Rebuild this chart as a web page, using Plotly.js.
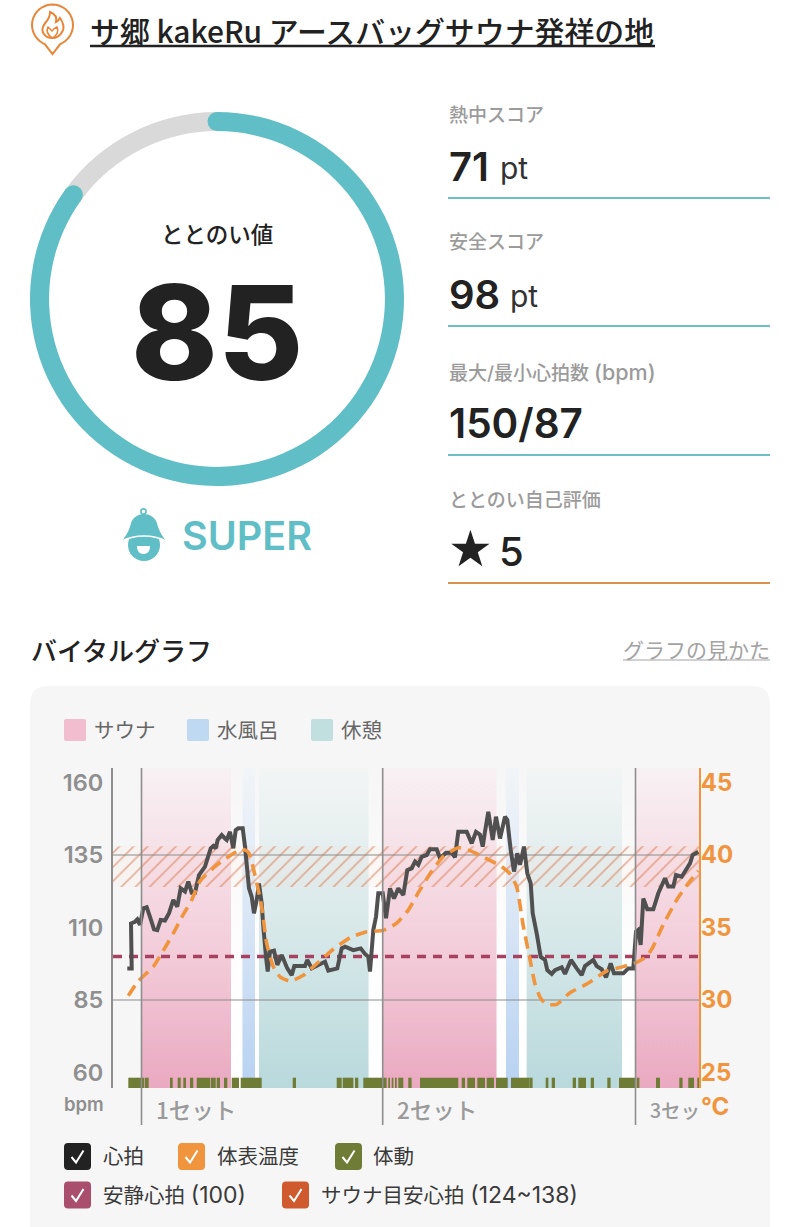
<!DOCTYPE html>
<html><head><meta charset="utf-8">
<script src="https://cdn.plot.ly/plotly-3.0.0.min.js"></script>
<style>html,body{margin:0;padding:0;background:#fff}#c{width:800px;height:1227px}</style>
</head><body><div id="c"></div>
<script>
// ---- data ----
const gaugeValues=[85,15];
const hrTime=[14.3,18.7,18,22,24.3,27,30.3,33.7,37,41,44.3,47.7,52,56,60.3,64.3,67.7,72,75.3,78.7,82,86,92,97.7,100.3,102.7,104.7,108.7,112,113.7,117,120.3,122.7,125.3,129.7,132,136,138.7,141,143.7,146,148.7,150.3,153,154.7,157,161,164.3,168.7,174.3,178.7,181.3,192,194.3,198.7,205.3,212,215.3,224.3,228.7,232,240.3,247.7,252,255.3,257,260.3,263,265.3,269.7,273,277,281,285.3,290.3,294.3,298.7,302,305.3,308.7,313.7,317,323.7,327,333,338.7,342,345.3,353.7,358.7,363,367,369.7,372,375.3,379.7,383,387,392,394.3,397.7,401,404.3,407,411,414.3,417.7,419.7,423.7,427.7,432,434.3,438.7,442,448.7,452,458,463.7,468.7,472,480.3,483.7,488.7,493,497.7,501,510.3,515.3,520.3,523,525.3,527.7,530.3,534.3,540.3,545.3,552,555.3,560.3,563,568.7,577,579.7,585.3];
const hrBpm=[95.9,95.9,111.4,112,112.8,110.9,116.6,117,113.7,109.4,109.1,112.6,112.4,114.9,119.5,117.2,123.5,122.4,125.8,122,122,128.1,131,137.3,138.1,137.3,140.2,141.9,140.7,140.2,143,137.3,143.6,144.2,144.2,137.9,123.5,120.6,114.9,119.5,125.2,118.3,110.3,99.9,94.8,101.7,102,97.1,100.5,95.9,93.6,96.7,96.7,98.8,95.9,97.1,98.2,95.1,95.9,102.8,103.4,102.2,102.8,100.9,99.9,94.8,109.1,113.7,121.8,121.8,113.2,123.5,120,123.5,121.2,129.8,130.4,132.7,131.6,134.4,135,137,137,133.9,135.8,135.8,134.2,143,143,139,143,142,137.9,143,149.9,140.2,148.2,140.7,148.2,147.1,136.7,129.3,135.6,131.6,137.9,128.7,125.2,114.9,108,99.9,98.8,95.3,94,95.3,96.3,94,98.8,95.9,93.6,96.7,98.8,96.7,95.6,92.8,97.6,94.2,94.2,95.9,95.9,108.6,109.2,104,120,116.3,116.3,121.8,127,124.1,124.1,128.1,127.5,132.1,135,136.1];
const tempTime=[15.3,25.3,40.3,50.3,60.3,70.3,78.7,87,103.7,120.3,128.7,135.3,142,148.7,153.7,160.3,167,177,190.3,203.7,220.3,237,253.7,270.3,283.7,295.3,305.3,317,330.3,345.3,357,372,388.7,397,403.7,410.3,417,422,427.7,433.7,443.7,457,473.7,493.7,510.3,523.7,533.7,540.3,550.3,563.7,573.7,585.3];
const tempC=[30.3,31.3,32.3,33.4,34.6,35.9,36.9,38.2,39.3,40.1,40.4,40.2,38.6,36.4,33.9,32.3,31.6,31.3,31.7,32.5,33.5,34.3,34.7,34.8,35.3,36.2,37.4,38.7,39.9,40.5,40.3,39.8,39.2,38.7,37.8,35.1,32.8,31.1,30.1,29.7,29.7,30.5,31.1,32,32.3,32.6,33,33.7,35.2,36.9,37.9,38.9];
const motionStart=[15.3,32,57,64.7,70.3,77,83.7,97.7,103.7,111,118.7,127.7,179.7,223.7,229.7,242,250.3,275.3,278.7,282,285.3,295.3,307,348.7,354.3,364.3,373.7,383,398,416.3,432.7,438.7,459.7,465.3,477.7,494.3,506,523.7,543,566.3,575.3,584.3];
const motionWidth=[16,3.7,2.7,3,2.7,3.3,13.3,5,3.3,3.3,7.3,21,3.3,5,10.7,3.3,23.3,1.7,1.7,1.7,5,3.3,38.3,3.3,7.7,7.7,7.3,11.7,18.3,3.3,2.7,3.3,3.3,7.7,3.3,3.3,16,2.7,4,3.3,5.7,2];
const saunaRanges=[[28.5,118],[269.7,383.5],[523,586]];
const waterRanges=[[129.5,142],[393,406]];
const restRanges=[[146,255.5],[413.7,509]];
const gapRanges=[[118,129.5],[142,146],[255.5,269.7],[383.5,393],[406,413.7],[509,523]];
const setTimes=[28.5,269.7,522.5];
const setLabels=["1セット","2セット","3セッ"];
const setLabelSizes=[22.5,22.5,19.5];
const restingBpm=100;
const targetBpm=[124,138];
const gridBpm=[135,85];
const bpmTicks=[60,85,110,135,160];
const tempTicks=[25,30,35,40,45];
const metricLabels=["熱中スコア","安全スコア",'最大/最小心拍数\u00A0<span style="font-size:21.5px">(bpm)</span>',"ととのい自己評価"];

// ---- helpers (page px -> paper) ----
const W=800,H=1227,X=x=>x/W,Y=y=>1-y/H;
const JP='"Noto Sans CJK JP","Noto Sans",sans-serif', LAT='Inter,"Noto Sans CJK JP",sans-serif';
const annotations=[],shapes=[];
function txt(x,y,text,size,color,weight,anchor,family){
  annotations.push({xref:'paper',yref:'paper',x:X(x),y:Y(y),text,showarrow:false,xanchor:anchor||'left',yanchor:'middle',
    font:{size,color,weight:weight||400,family:family||JP},borderpad:0,borderwidth:0});
}
function pxPath(s){let i=0;return s.replace(/-?\d+(\.\d+)?/g,m=>{const v=parseFloat(m);return ((i++)%2===0?X(v):Y(v)).toFixed(5)})}
function pathShape(s,fill,line,lw,layer){shapes.push({type:'path',xref:'paper',yref:'paper',path:pxPath(s),fillcolor:fill||'rgba(0,0,0,0)',line:{color:line||'rgba(0,0,0,0)',width:lw||0},layer:layer||'above'})}
function rrect(x0,y0,x1,y1,r,fill,layer){pathShape(`M${x0+r} ${y0} L${x1-r} ${y0} Q${x1} ${y0} ${x1} ${y0+r} L${x1} ${y1-r} Q${x1} ${y1} ${x1-r} ${y1} L${x0+r} ${y1} Q${x0} ${y1} ${x0} ${y1-r} L${x0} ${y0+r} Q${x0} ${y0} ${x0+r} ${y0} Z`,fill,null,0,layer)}
function hline(x0,x1,y,color,w){shapes.push({type:'line',xref:'paper',yref:'paper',x0:X(x0),x1:X(x1),y0:Y(y),y1:Y(y),line:{color,width:w},layer:'above'})}
function circle(cx,cy,r,fill,line,lw){shapes.push({type:'circle',xref:'paper',yref:'paper',x0:X(cx-r),x1:X(cx+r),y0:Y(cy+r),y1:Y(cy-r),fillcolor:fill,line:{color:line||'rgba(0,0,0,0)',width:lw||0},layer:'above'})}
function checkbox(x,y,color){rrect(x,y,x+27,y+27,4,color,'above');pathShape(`M${x+7.5} ${y+14} L${x+12} ${y+19.5} L${x+19.5} ${y+7.5}`,null,'#fff',2)}

// ---- page decoration ----
const TEAL='#60BEC6',ORANGE='#F0953E',INK='#222222',GREY='#9B9B9B';
rrect(30,686,770,1260,18,'#F6F6F6','below');

// header icon
let pin='M45 44.3';for(let a=-150;a<=150;a+=10){const t=a*Math.PI/180;pin+=` L${(52.5+20.5*Math.sin(t)).toFixed(2)} ${(25-20.5*Math.cos(t)).toFixed(2)}`}
pin+=' L60 44.3 L52.5 54 Z';
pathShape(pin,null,'#E8873A',2);
pathShape('M52 38 C45 38 41 32 43 27 C44 23 48 21 49 17 C50 15 50 13 50 12 C55 14 57 18 56 22 C58 21 59 20 60 18 C63 22 65 28 62 32 C60 36 56 38 52 38 Z',null,'#E8873A',2);
pathShape('M52 38 C48 35 46 31 48 27 L52 31 C53 29 55 28 57 27 C59 31 57 36 52 38',null,'#E8873A',1.6);
txt(90,30,'サ郷 kakeRu アースバッグサウナ発祥の地',29.9,INK,500);
hline(90,655,46,'#222',2.5);

// gauge caps
const cx=217,cy=299,capR=9.5,midR=177.5;
const endA=gaugeValues[0]/(gaugeValues[0]+gaugeValues[1])*2*Math.PI;
circle(cx,cy-midR,capR,TEAL);
circle(cx+midR*Math.sin(endA),cy-midR*Math.cos(endA),capR,TEAL);
txt(217,233,'ととのい値',22.5,INK,500,'center');
txt(217,332,'85',131,INK,800,'center',LAT);

// SUPER badge
circle(143.5,511.5,2.6,'rgba(0,0,0,0)',TEAL,1.6);
circle(144,545,16,TEAL);
pathShape('M122 541 C127 535 130 528 131 523 C133 517 139 514 144 514 C149 514 155 517 157 523 C158 528 161 535 166 541 C158 537 150 536 144 536 C138 536 130 537 122 541 Z',TEAL);
pathShape('M122 541 C130 537 138 536 144 536 C150 536 158 537 166 541',null,'#fff',1.6);
pathShape('M137 546 L150 546 C150 552 147 554 143.5 554 C140 554 137 552 137 546 Z','#fff');
txt(182,535.5,'SUPER',39.5,TEAL,600,'left',LAT);

// metrics
const RULE='#6BBFC5';
[[115,198,RULE],[243,326,RULE],[372,455,RULE],[500,583,'#D6934E']].forEach((r,i)=>{
  txt(449,r[0],metricLabels[i],19,GREY,500,'left',LAT);
  hline(448,770,r[1],r[2],2);
});
txt(449,166,'71',40,INK,600,'left',LAT); txt(500,168,'pt',30,'#333',400,'left',LAT);
txt(449,294,'98',40,INK,600,'left',LAT); txt(510,296,'pt',30,'#333',400,'left',LAT);
txt(449,423,'150/87',40.5,INK,600,'left',LAT);
txt(470,549,'★',50,INK,400,'center','"DejaVu Sans"'); txt(499,551,'5',40,INK,500,'left',LAT);

// section heading
txt(31,649,'バイタルグラフ',26,INK,500);
txt(623,649,'グラフの見かた',21,'#A3A3A3',400);
hline(623,770,660,'#A3A3A3',1.2);

// zone legend
[[64,'#F1BDCF','サウナ'],[187,'#BFD9F3','水風呂'],[311,'#C2DFE0','休憩']].forEach(l=>{
  rrect(l[0],719,l[0]+22,741,2,l[1],'above');
  txt(l[0]+30,729,l[2],20.5,'#666',400);
});

// check legend
const wide=s=>`<span style="font-size:23px">${s}</span>`;
[[64,1143,'#222222',103,'心拍'],[178,1143,ORANGE,217,'体表温度'],[335,1143,'#6F7C36',373,'体動'],
 [64,1181.5,'#A94E6C',103,'安静心拍 '+wide('(100)')],[282,1181.5,'#CE5A2E',321,'サウナ目安心拍 '+wide('(124~138)')]].forEach(l=>{
  checkbox(l[0],l[1],l[2]); txt(l[3],l[1]+13,l[4],20.5,'#3A3A3A',400,'left',LAT);
});

// set lines and labels
const P0=113,P1=699;
setTimes.forEach((t,i)=>{
  shapes.push({type:'line',xref:'x',yref:'paper',x0:t,x1:t,y0:Y(768),y1:Y(1125),line:{color:'#8E8E8E',width:1.6},layer:'above'});
  txt(P0+t+14,1109,setLabels[i],setLabelSizes[i],'#9A9A9A',500);
});
txt(104,1104,'bpm',18.5,'#8F8F8F',600,'right',LAT);
txt(701,1106,'°C',24,ORANGE,700,'left',LAT);

// ---- traces ----
const yLow=54.66,yHigh=165;
function band(ranges,colors,name){
  return ranges.map(r=>({type:'scatter',mode:'none',x:[r[0],r[1],r[1],r[0],r[0]],y:[yLow,yLow,yHigh,yHigh,yLow],fill:'toself',hoverinfo:'skip',showlegend:false,name,
    fillgradient:{type:'vertical',colorscale:[[0,colors[0]],[0.45,colors[1]],[1,colors[2]]],start:yLow,stop:yHigh}}));
}
const traces=[];
traces.push({type:'pie',values:gaugeValues,sort:false,direction:'clockwise',rotation:0,hole:0.898,marker:{colors:[TEAL,'#D9D9D9'],line:{width:0}},textinfo:'none',hoverinfo:'skip',showlegend:false,
  domain:{x:[X(30),X(404)],y:[Y(486),Y(112)]}});
traces.push(...band(gapRanges,['rgba(255,255,255,1)','rgba(255,255,255,.8)','rgba(255,255,255,0)'],'gap'));
traces.push(...band(saunaRanges,['#EAA9C0','#F3CEDB','#F8F1F3'],'サウナ'));
traces.push(...band(waterRanges,['#B7D2F2','#D4E3F5','#F2F5F8'],'水風呂'));
traces.push(...band(restRanges,['#B9D9DC','#D5E7E8','#F3F5F5'],'休憩'));
traces.push({type:'scatter',mode:'none',x:[0,586,586,0,0],y:[targetBpm[0],targetBpm[0],targetBpm[1],targetBpm[1],targetBpm[0]],fill:'toself',hoverinfo:'skip',showlegend:false,name:'サウナ目安心拍',
  fillcolor:'rgba(0,0,0,0)',fillpattern:{shape:'/',size:10,solidity:0.18,fgcolor:'rgba(214,98,52,.92)',bgcolor:'rgba(250,215,195,.1)',fillmode:'overlay'}});
gridBpm.forEach(b=>traces.push({type:'scatter',mode:'lines',x:[0,586],y:[b,b],line:{color:'#8C8C8C',width:1.2},hoverinfo:'skip',showlegend:false}));
const mx=[],my=[];motionStart.forEach((s,i)=>{mx.push(s,s+motionWidth[i],null);my.push(56.4,56.4,null)});
traces.push({type:'scatter',mode:'lines',x:mx,y:my,line:{color:'#6F7C36',width:10.5,simplify:false},name:'体動',hoverinfo:'skip',showlegend:false,connectgaps:false});
traces.push({type:'scatter',mode:'lines',x:[0,586],y:[restingBpm,restingBpm],line:{color:'#A8405F',width:3.4,dash:'9px,7px'},name:'安静心拍',hoverinfo:'skip',showlegend:false});
traces.push({type:'scatter',mode:'lines',x:hrTime,y:hrBpm,line:{color:'#505050',width:4,simplify:false},name:'心拍',hoverinfo:'skip',showlegend:false});
traces.push({type:'scatter',mode:'lines',x:tempTime,y:tempC,yaxis:'y2',line:{color:ORANGE,width:3.6,dash:'12px,7px',shape:'spline',smoothing:0.5},name:'体表温度',hoverinfo:'skip',showlegend:false});

const layout={width:W,height:H,margin:{l:0,r:0,t:0,b:0,pad:0},paper_bgcolor:'#ffffff',plot_bgcolor:'rgba(0,0,0,0)',showlegend:false,
  font:{family:JP},
  xaxis:{domain:[X(P0),X(P1)],range:[0,586],visible:false,fixedrange:true},
  yaxis:{domain:[Y(1088),Y(768)],range:[yLow,yHigh],tickmode:'array',tickvals:bpmTicks,ticktext:bpmTicks.map(String),showgrid:false,zeroline:false,
    showline:true,linecolor:'#8E8E8E',linewidth:2,ticks:'',tickfont:{size:23.5,color:'#8F8F8F',family:LAT,weight:600},ticklabelstandoff:3,fixedrange:true},
  yaxis2:{overlaying:'y',side:'right',range:[23.93,46],tickmode:'array',tickvals:tempTicks,ticktext:tempTicks.map(String),showgrid:false,zeroline:false,
    showline:true,linecolor:ORANGE,linewidth:2,ticks:'',tickfont:{size:24,color:ORANGE,family:LAT,weight:700},ticklabelstandoff:-5,fixedrange:true},
  shapes,annotations};
Plotly.newPlot('c',traces,layout,{displayModeBar:false,staticPlot:true});
</script></body></html>
